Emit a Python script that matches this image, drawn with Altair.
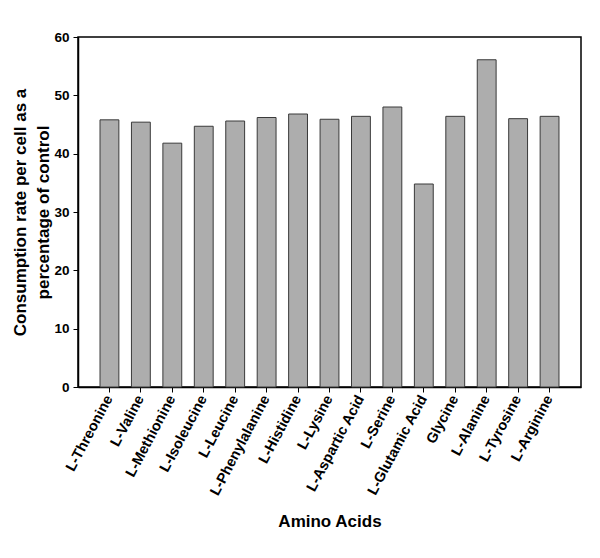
import altair as alt
import pandas as pd

amino_acids = ["L-Threonine", "L-Valine", "L-Methionine", "L-Isoleucine", "L-Leucine",
               "L-Phenylalanine", "L-Histidine", "L-Lysine", "L-Aspartic Acid", "L-Serine",
               "L-Glutamic Acid", "Glycine", "L-Alanine", "L-Tyrosine", "L-Arginine"]
consumption = [45.8, 45.4, 41.8, 44.7, 45.6, 46.2, 46.8, 45.9, 46.4, 48.0,
               34.8, 46.4, 56.1, 46.0, 46.4]

df = pd.DataFrame({"amino": amino_acids, "value": consumption})

font = "Liberation Sans"

chart = alt.Chart(df).mark_bar(
    color="#adadad", stroke="#3a3a3a", strokeWidth=1
).encode(
    x=alt.X("amino:N", sort=amino_acids,
            scale=alt.Scale(paddingInner=0.4, paddingOuter=0.7),
            axis=alt.Axis(title="Amino Acids", labelAngle=298, labelFontSize=14.5,
                          labelFontWeight="bold", labelFont=font, labelColor="black",
                          labelOverlap=False, labelLimit=300,
                          titleFontSize=17, titleFontWeight="bold", titleFont=font,
                          titleColor="black", titlePadding=16, tickColor="black",
                          domainColor="black", tickSize=5, labelPadding=4)),
    y=alt.Y("value:Q", scale=alt.Scale(domain=[0, 60], nice=False),
            axis=alt.Axis(title=["Consumption rate per cell as a", "percentage of control"],
                          values=[0, 10, 20, 30, 40, 50, 60], grid=False,
                          labelFontSize=13.5, labelFontWeight="bold", labelFont=font,
                          labelColor="black", titleFontSize=17, titleFontWeight="bold",
                          titleFont=font, titleColor="black", titlePadding=1,
                          titleLineHeight=23,
                          tickColor="black", domainColor="black", tickSize=5,
                          labelPadding=4)),
).properties(
    width=503, height=350,
    autosize=alt.AutoSizeParams(type="none"),
    padding={"left": 70, "top": 29, "right": 10, "bottom": 160},
).configure_view(
    stroke="black", strokeWidth=1.5
).configure_axis(
    domainWidth=1.5
)

chart.save("out.html", embed_options={"renderer": "svg", "actions": False})
